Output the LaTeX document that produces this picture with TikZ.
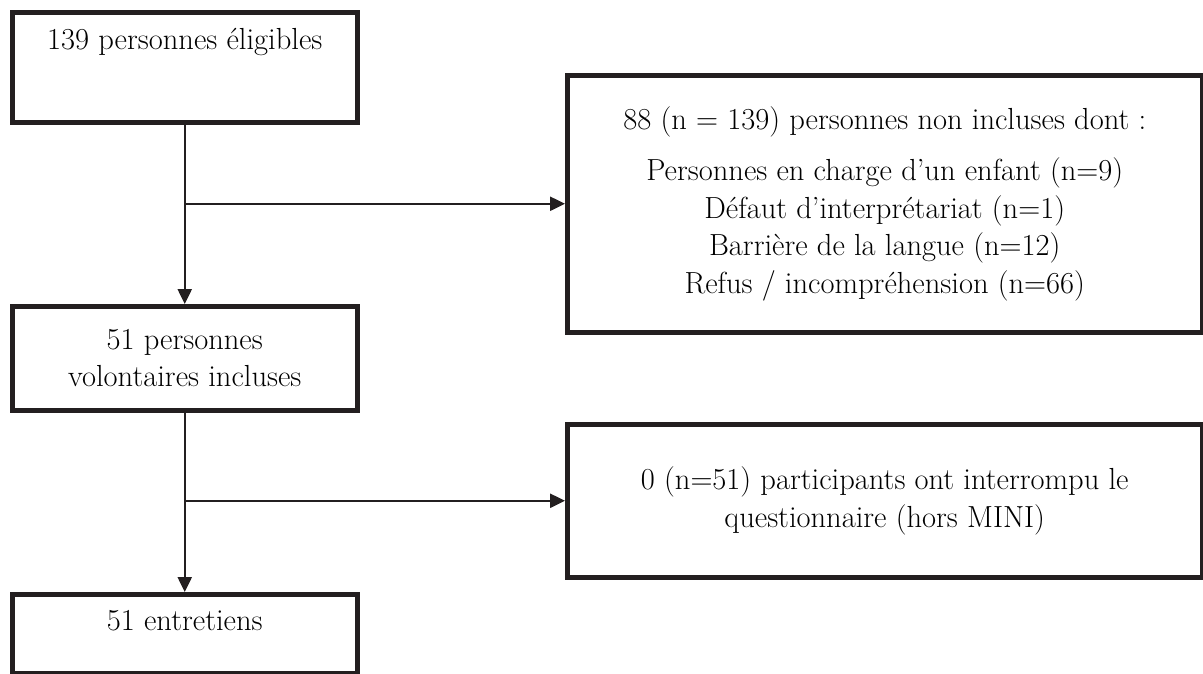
\documentclass[tikz,border=0pt]{standalone}
\usepackage{tikz}
\usetikzlibrary{positioning,arrows.meta}
\definecolor{trait}{HTML}{231F20}

\begin{document}
\begin{tikzpicture}[x=1pt,y=-1pt,
  every node/.style={font=\fontsize{30.5}{37.5}\selectfont, align=center},
  boite/.style={draw=trait, line width=4.5pt, anchor=north west, inner sep=0pt},
  fleche/.style={draw=trait, line width=2.5pt, -{Triangle[length=15pt,width=14pt]}}]
  \useasboundingbox (0,0) rectangle (1203,673);
  \node[boite, minimum width=345pt, minimum height=110pt] (eligibles) at (10,10) {};
  \node[below=15pt of eligibles.north] (t-eligibles) {139 personnes éligibles};
  \node[boite, minimum width=345pt, minimum height=104pt] (inclus) at (10,304)
    {51 personnes\\volontaires incluses};
  \node[boite, minimum width=345pt, minimum height=79pt] (entretiens) at (10,592) {};
  \node[below=15pt of entretiens.north] (t-entretiens) {51 entretiens};
  \node[boite, minimum width=635pt, minimum height=257pt] (exclus) at (565,73)
    {88 (n = 139) personnes non incluses dont :\\[14pt]
     Personnes en charge d’un enfant (n=9)\\
     Défaut d’interprétariat (n=1)\\
     Barrière de la langue (n=12)\\
     Refus / incompréhension (n=66)};
  \node[boite, minimum width=635pt, minimum height=153pt] (interrompu) at (565,422)
    {0 (n=51) participants ont interrompu le\\questionnaire (hors MINI)};
  \draw[fleche] (eligibles) -- (inclus);
  \draw[fleche] (eligibles.south |- exclus.west) -- (exclus.west);
  \draw[fleche] (inclus) -- (entretiens);
  \draw[fleche] (inclus.south |- interrompu.west) -- (interrompu.west);
\end{tikzpicture}
\end{document}
